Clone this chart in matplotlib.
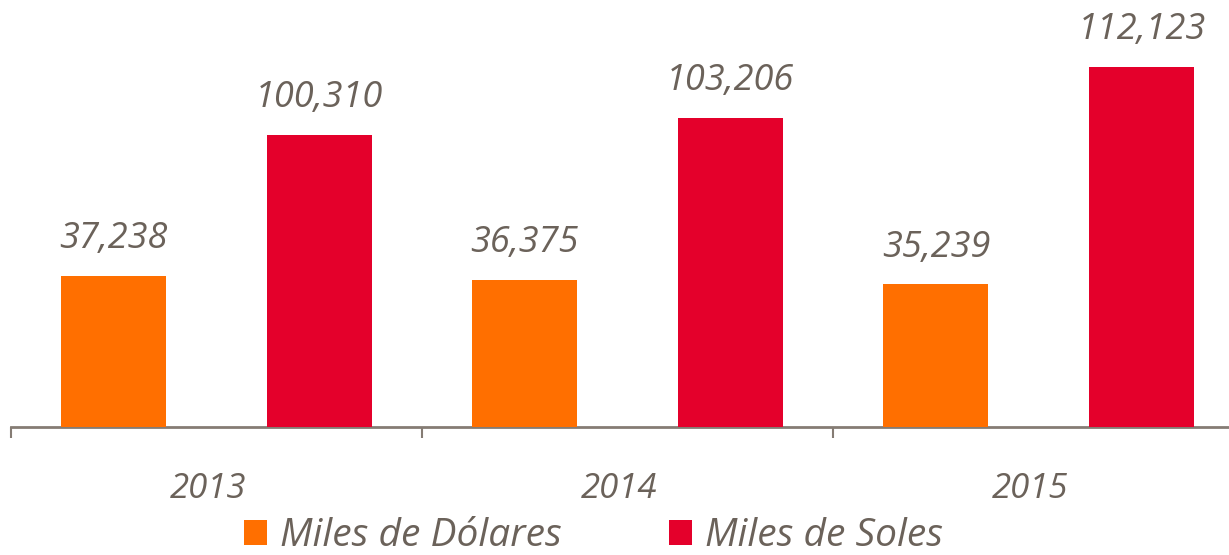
import matplotlib
matplotlib.use("Agg")
import matplotlib.pyplot as plt
import matplotlib.transforms as mtransforms
from matplotlib.patches import Patch
import numpy as np

years = ["2013", "2014", "2015"]
dolares = [37238, 36375, 35239]
soles = [100310, 103206, 112123]
series_names = ["Miles de Dólares", "Miles de Soles"]

c_orange = "#FF6F00"
c_red = "#E4002B"
c_text = "#6B625A"
c_axis = "#857C74"

plt.rcParams['font.family'] = ['Open Sans', 'DejaVu Sans']

W, H = 1229, 555
fig = plt.figure(figsize=(W / 100, H / 100), dpi=100)
ax_l = 11 / W
ax_b = (H - 427) / H
ax = fig.add_axes([ax_l, ax_b, 1 - ax_l, 1 - ax_b])
ax2 = ax.twinx()

x = np.arange(len(years))
bw = 0.2555
off = 0.25

ax.bar(x - off, dolares, width=bw, color=c_orange, zorder=3)
ax2.bar(x + off, soles, width=bw, color=c_red, zorder=3)

ax.set_xticks([-0.5, 0.5, 1.5, 2.5])
ax.set_xticklabels([])
ax.tick_params(axis="x", length=8, width=1.5, color=c_axis, direction="out")
ax.set_xlim(-0.5, 2.463)
ax.set_ylim(0, 105430)
ax2.set_ylim(49550, 49550 + 427 / 0.005756)

for a in (ax, ax2):
    for s in ("top", "right", "left"):
        a.spines[s].set_visible(False)
    a.set_yticks([])
ax2.spines["bottom"].set_visible(False)
ax.spines["bottom"].set_color(c_axis)
ax.spines["bottom"].set_linewidth(2)

fs = 26
for xi, v in zip(x, dolares):
    ax.annotate(f"{v:,}", (xi - off, v), xytext=(0, 20), textcoords="offset points",
                ha="center", va="baseline", fontsize=fs, style="italic", color=c_text)
for xi, v in zip(x, soles):
    ax2.annotate(f"{v:,}", (xi + off, v), xytext=(0, 20), textcoords="offset points",
                 ha="center", va="baseline", fontsize=fs, style="italic", color=c_text)

trans = mtransforms.blended_transform_factory(ax.transData, fig.transFigure)
for xi, yr in zip(x, years):
    ax.text(xi - 0.02, (H - 498) / H, yr, transform=trans, ha="center", va="baseline",
            fontsize=25, style="italic", color=c_text)

handles = [Patch(facecolor=c_orange, edgecolor="none"), Patch(facecolor=c_red, edgecolor="none")]
leg = fig.legend(handles, series_names, loc="lower left", bbox_to_anchor=(244 / W, 0.0),
                 ncol=2, frameon=False, prop={"size": 28, "style": "italic"},
                 handlelength=0.6, handleheight=0.6, handletextpad=0.33, columnspacing=2.75,
                 borderaxespad=0, borderpad=0)
for t in leg.get_texts():
    t.set_color(c_text)

fig.savefig("out.png", dpi=100)
